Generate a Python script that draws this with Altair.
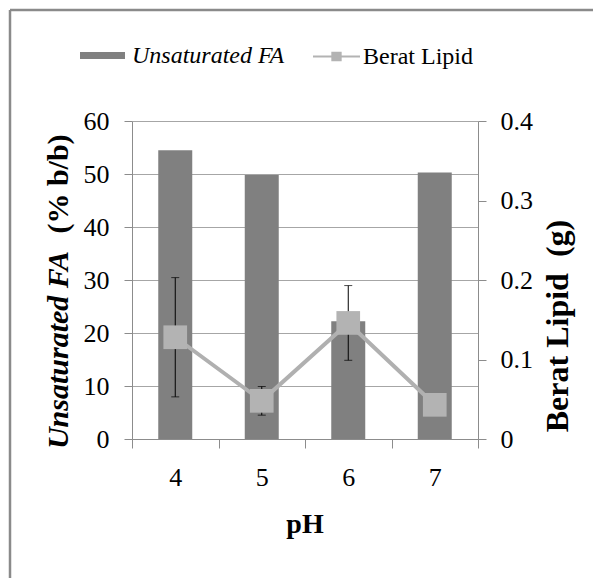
import altair as alt
import pandas as pd

# ---- data ----
ph = ["4", "5", "6", "7"]
unsat_fa = [54.5, 49.8, 22.2, 50.3]          # % b/b (left axis, bars)
lipid = [0.128, 0.048, 0.146, 0.043]          # g (right axis, line)
lipid_sd = [0.075, 0.018, 0.047, 0.0]         # error bar half-length

left_ticks = [0, 10, 20, 30, 40, 50, 60]
right_ticks = [0, 0.1, 0.2, 0.3, 0.4]

FONT = "'Liberation Serif', 'Times New Roman', Times, serif"
BAR_C = "#808080"
LINE_C = "#b0b0b0"
MARK_C = "#b3b3b3"
AXIS_C = "#8c8c8c"
GRID_C = "#a6a6a6"

df = pd.DataFrame({"pH": ph, "fa": unsat_fa, "lipid": lipid, "sd": lipid_sd})
df["lo"] = df["lipid"] - df["sd"]
df["hi"] = df["lipid"] + df["sd"]

W, H = 346, 318

x_enc = alt.X(
    "pH:N", sort=ph,
    scale=alt.Scale(type="band", paddingInner=0, paddingOuter=0),
    axis=alt.Axis(title=None, labelAngle=0, tickBand="extent", tickSize=9,
                  tickColor=AXIS_C, domainColor=AXIS_C, labelPadding=16,
                  labelFont=FONT, labelFontSize=26, labelColor="black", grid=False),
)

base = alt.Chart(df)

bars = base.mark_bar(width=34).transform_calculate(s1="'Unsaturated FA'").encode(
    x=x_enc,
    y=alt.Y("fa:Q", scale=alt.Scale(domain=[0, 60], nice=False),
            axis=alt.Axis(values=left_ticks, title=None, grid=True, gridColor=GRID_C,
                          domainColor=AXIS_C, tickColor=AXIS_C, tickSize=8,
                          labelPadding=15, labelFont=FONT, labelFontSize=26,
                          labelColor="black", orient="left")),
    color=alt.Color("s1:N", scale=alt.Scale(domain=["Unsaturated FA"], range=[BAR_C]),
                    legend=alt.Legend(orient="none", legendX=-52, legendY=-88, title=None,
                                      symbolType="M-1,-0.16H1V0.16H-1Z", symbolSize=2025,
                                      symbolStrokeWidth=0, labelFont=FONT, labelFontSize=24,
                                      labelFontStyle="italic", labelColor="black",
                                      labelOffset=7, labelLimit=0, padding=0)),
)

y_right = alt.Y("lipid:Q", scale=alt.Scale(domain=[0, 0.4], nice=False),
                axis=alt.Axis(values=right_ticks, format="~g", title=None, grid=False,
                              orient="right", domainColor=AXIS_C, tickColor=AXIS_C,
                              tickSize=8, labelPadding=14, labelFont=FONT,
                              labelFontSize=26, labelColor="black"))

err_rule = base.mark_rule(color="black", strokeWidth=1).encode(
    x=x_enc, y=alt.Y("lo:Q", scale=alt.Scale(domain=[0, 0.4], nice=False)), y2="hi:Q")
err_lo = base.mark_tick(color="black", thickness=1, size=8).encode(
    x=x_enc, y=alt.Y("lo:Q", scale=alt.Scale(domain=[0, 0.4], nice=False)))
err_hi = base.mark_tick(color="black", thickness=1, size=8).encode(
    x=x_enc, y=alt.Y("hi:Q", scale=alt.Scale(domain=[0, 0.4], nice=False)))
line = base.mark_line(color=LINE_C, strokeWidth=4).encode(x=x_enc, y=y_right)
points = base.mark_square(size=560, filled=True, opacity=1).transform_calculate(
    s2="'Berat Lipid'").encode(
    x=x_enc, y=y_right,
    color=alt.Color("s2:N", scale=alt.Scale(domain=["Berat Lipid"], range=[MARK_C]),
                    legend=alt.Legend(orient="none", legendX=181, legendY=-88, title=None,
                                      symbolType="M-1,-0.045H1V0.045H-1Z M-0.22,-0.2H0.22V0.2H-0.22Z",
                                      symbolSize=2209, symbolStrokeWidth=0, symbolOpacity=1,
                                      labelFont=FONT, labelFontSize=24, labelColor="black",
                                      labelOffset=3, labelLimit=0, padding=0)),
)

right = alt.layer(line, err_rule, err_lo, err_hi, points)

one = pd.DataFrame({"a": [0]})
border_top = alt.Chart(one).mark_rule(color="#8a8a8a", strokeWidth=2.5).encode(
    x=alt.value(-122), x2=alt.value(470), y=alt.value(-111))
border_left = alt.Chart(one).mark_rule(color="#8a8a8a", strokeWidth=2.5).encode(
    x=alt.value(-122), y=alt.value(-111), y2=alt.value(470))

title_l1 = alt.Chart(pd.DataFrame({"t": ["Unsaturated FA"]})).mark_text(
    font=FONT, fontSize=30, fontWeight="bold", fontStyle="italic", angle=270,
    align="center", baseline="middle", color="black").encode(
    text="t:N", x=alt.value(-73), y=alt.value(229))
title_l2 = alt.Chart(pd.DataFrame({"t": ["(% b/b)"]})).mark_text(
    font=FONT, fontSize=30, fontWeight="bold", angle=270,
    align="center", baseline="middle", color="black").encode(
    text="t:N", x=alt.value(-73), y=alt.value(63))
title_r = alt.Chart(pd.DataFrame({"t": ["Berat Lipid\u00a0\u00a0(g)"]})).mark_text(
    font=FONT, fontSize=32, fontWeight="bold", angle=270,
    align="center", baseline="middle", color="black").encode(
    text="t:N", x=alt.value(426), y=alt.value(205))
title_x = alt.Chart(pd.DataFrame({"t": ["pH"]})).mark_text(
    font=FONT, fontSize=28, fontWeight="bold",
    align="center", baseline="alphabetic", color="black").encode(
    text="t:N", x=alt.value(W / 2), y=alt.value(412))

chart = alt.layer(
    bars, right, border_top, border_left, title_l1, title_l2, title_r, title_x
).resolve_scale(y="independent", color="independent").properties(
    width=W, height=H,
    autosize=alt.AutoSizeParams(type="none"),
    padding={"left": 132, "top": 121, "right": 115, "bottom": 139},
    background="white",
).configure_view(stroke=None)

chart.save("out.html", embed_options={"renderer": "svg", "actions": False})
